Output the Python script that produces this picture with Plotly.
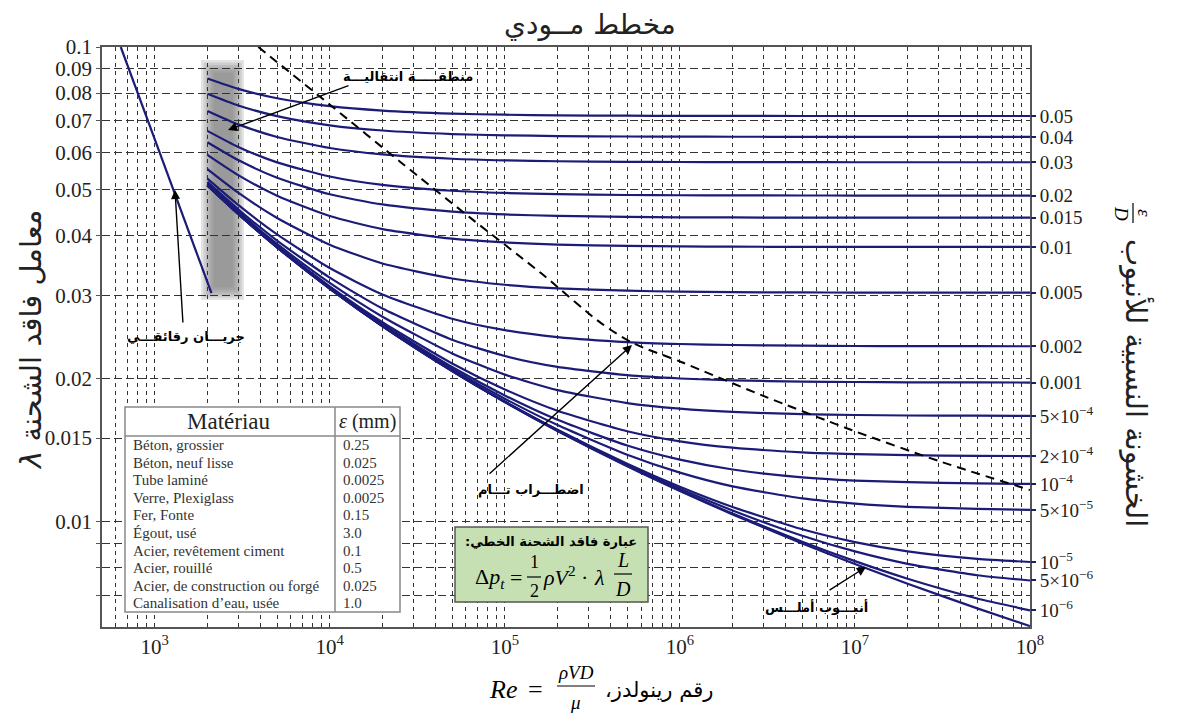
import math
import plotly.graph_objects as go

# ---------------- data ----------------
RE = [2000, 3000, 5000, 1e4, 2e4, 5e4, 1e5, 2e5, 5e5, 1e6, 2e6, 5e6, 1e7, 2e7, 5e7, 1e8]

f_0_05 = [0.08584, 0.08161, 0.07799, 0.07504, 0.07344, 0.07238, 0.0720, 0.07179, 0.07166, 0.07161, 0.07158, 0.07156, 0.07156, 0.07155, 0.07155, 0.07155]
f_0_04 = [0.07972, 0.07532, 0.07152, 0.0684, 0.06669, 0.06556, 0.06515, 0.06493, 0.06478, 0.06473, 0.0647, 0.06469, 0.06468, 0.06468, 0.06467, 0.06467]
f_0_03 = [0.07334, 0.0687, 0.06464, 0.06127, 0.0594, 0.05816, 0.0577, 0.05746, 0.0573, 0.05724, 0.05721, 0.05719, 0.05718, 0.05718, 0.05718, 0.05718]
f_0_02 = [0.06658, 0.06159, 0.05714, 0.05336, 0.05123, 0.04979, 0.04926, 0.04897, 0.04878, 0.04872, 0.04868, 0.04866, 0.04865, 0.04864, 0.04864, 0.04864]
f_0_015 = [0.06302, 0.05778, 0.05304, 0.04895, 0.04659, 0.04499, 0.04439, 0.04407, 0.04386, 0.04378, 0.04374, 0.04371, 0.0437, 0.0437, 0.04369, 0.04369]
f_0_01 = [0.05928, 0.05372, 0.0486, 0.04404, 0.04134, 0.03946, 0.03875, 0.03836, 0.03811, 0.03801, 0.03796, 0.03793, 0.03792, 0.03791, 0.03791, 0.03791]
f_0_005 = [0.05533, 0.04934, 0.04364, 0.03833, 0.03499, 0.03253, 0.03156, 0.03102, 0.03066, 0.03052, 0.03045, 0.0304, 0.03039, 0.03038, 0.03037, 0.03037]
f_0_002 = [0.05283, 0.0465, 0.0403, 0.03422, 0.03011, 0.02677, 0.02533, 0.02449, 0.0239, 0.02368, 0.02356, 0.02348, 0.02345, 0.02344, 0.02343, 0.02342]
f_0_001 = [0.05197, 0.04551, 0.0391, 0.03267, 0.02812, 0.02418, 0.02234, 0.02119, 0.02035, 0.02003, 0.01985, 0.01973, 0.01969, 0.01966, 0.01965, 0.01964]
f_5em4 = [0.05153, 0.045, 0.03848, 0.03184, 0.02702, 0.02262, 0.02041, 0.01893, 0.01778, 0.0173, 0.01703, 0.01685, 0.01678, 0.01674, 0.01672, 0.01671]
f_2em4 = [0.05127, 0.0447, 0.0381, 0.03132, 0.02631, 0.02155, 0.01899, 0.01713, 0.01551, 0.01477, 0.01432, 0.014, 0.01388, 0.01381, 0.01376, 0.01375]
f_1em4 = [0.05118, 0.04459, 0.03797, 0.03115, 0.02606, 0.02117, 0.01845, 0.01639, 0.01447, 0.01351, 0.01288, 0.0124, 0.01221, 0.01211, 0.01204, 0.01201]
f_5em5 = [0.05114, 0.04454, 0.03791, 0.03106, 0.02594, 0.02097, 0.01816, 0.01598, 0.01384, 0.01269, 0.01187, 0.0112, 0.01092, 0.01075, 0.01064, 0.01059]
f_1em5 = [0.0511, 0.0445, 0.03786, 0.03099, 0.02584, 0.0208, 0.01792, 0.01562, 0.01325, 0.01185, 0.01074, 0.009638, 0.009059, 0.008662, 0.008351, 0.008224]
f_5em6 = [0.0511, 0.0445, 0.03785, 0.03098, 0.02583, 0.02078, 0.01789, 0.01558, 0.01317, 0.01173, 0.01056, 0.009344, 0.008657, 0.00815, 0.007713, 0.007519]
f_1em6 = [0.05109, 0.04449, 0.03785, 0.03097, 0.02582, 0.02076, 0.01787, 0.01554, 0.01311, 0.01163, 0.0104, 0.009074, 0.008258, 0.007583, 0.006889, 0.006506]
f_smooth = [0.05109, 0.04449, 0.03785, 0.03097, 0.02581, 0.02076, 0.01786, 0.01553, 0.01309, 0.01161, 0.01036, 0.009001, 0.008142, 0.007401, 0.006567, 0.006026]

curves = [f_0_05, f_0_04, f_0_03, f_0_02, f_0_015, f_0_01, f_0_005, f_0_002, f_0_001,
          f_5em4, f_2em4, f_1em4, f_5em5, f_1em5, f_5em6, f_1em6, f_smooth]
rough_labels = ["0.05", "0.04", "0.03", "0.02", "0.015", "0.01", "0.005", "0.002", "0.001",
                "5×10<sup>−4</sup>", "2×10<sup>−4</sup>", "10<sup>−4</sup>", "5×10<sup>−5</sup>",
                "10<sup>−5</sup>", "5×10<sup>−6</sup>", "10<sup>−6</sup>"]

lam_re = [640, 2110]
lam_f = [0.1, 0.0303]

dash_re = [3908, 10230, 25400, 63900, 160800, 354500, 540500, 1.018e6, 2.922e6, 9.56e6, 3.13e7, 1e8]
dash_f = [0.1, 0.0751, 0.0572, 0.0436, 0.0334, 0.0262, 0.02378, 0.0217, 0.01848, 0.0156, 0.01336, 0.01166]

materials = ["Béton, grossier", "Béton, neuf lisse", "Tube laminé", "Verre, Plexiglass", "Fer, Fonte",
             "Égout, usé", "Acier, revêtement ciment", "Acier, rouillé",
             "Acier, de construction ou forgé", "Canalisation d’eau, usée"]
eps_mm = ["0.25", "0.025", "0.0025", "0.0025", "0.15", "3.0", "0.1", "0.5", "0.025", "1.0"]

y_major = [0.1, 0.09, 0.08, 0.07, 0.06, 0.05, 0.04, 0.03, 0.02, 0.015, 0.01]
y_major_text = ["0.1", "0.09", "0.08", "0.07", "0.06", "0.05", "0.04", "0.03", "0.02", "0.015", "0.01"]
y_minor = [0.009, 0.008, 0.007]

# ---------------- layout geometry ----------------
# the page body adds an 8px offset, so the figure is 8px smaller and margins shifted
W, H = 1173, 707
ML, MT = 94, 39
PW, PH = 928, 580
MR, MB = W - ML - PW, H - MT - PH
REF_L, REF_B = 102, 627   # plot-area left / bottom in screen pixels
NAVY = "#1b1b78"
SERIF = "Liberation Serif"
SANS = "DejaVu Sans"


def px(x):
    return (x - REF_L) / PW


def py(y):
    return (REF_B - y) / PH


fig = go.Figure()
for c in curves:
    fig.add_trace(go.Scatter(x=RE, y=c, mode="lines", hoverinfo="skip", showlegend=False,
                             line=dict(color=NAVY, width=2.2, shape="spline", smoothing=0.6)))
fig.add_trace(go.Scatter(x=lam_re, y=lam_f, mode="lines", hoverinfo="skip", showlegend=False,
                         line=dict(color=NAVY, width=2.2)))
fig.add_trace(go.Scatter(x=dash_re, y=dash_f, mode="lines", hoverinfo="skip", showlegend=False,
                         line=dict(color="black", width=2, dash="9px,6px", shape="spline", smoothing=0.8)))
ends = [c[-1] for c in curves[:-1]]
fig.add_trace(go.Scatter(x=[RE[-1]] * len(ends), y=ends, yaxis="y2", mode="markers",
                         marker=dict(opacity=0), hoverinfo="skip", showlegend=False))

# x grid / ticks
xv, xt = [], []
for d in range(2, 9):
    for m in range(1, 10):
        v = m * 10 ** d
        if 500 <= v <= 1e8:
            xv.append(v)
            xt.append("10<sup>%d</sup>" % d if m == 1 else "")

yr = [math.log10(0.006), -1]
fig.update_layout(
    width=W, height=H, margin=dict(l=ML, r=MR, t=MT, b=MB),
    paper_bgcolor="white", plot_bgcolor="white", showlegend=False,
    xaxis=dict(type="log", range=[math.log10(500), 8], tickvals=xv, ticktext=xt,
               showgrid=True, gridcolor="#333", gridwidth=1, griddash="4px,4px",
               showline=True, mirror=True, linecolor="#555", linewidth=1.5,
               ticks="", tickfont=dict(family=SERIF, size=21, color="#222"), zeroline=False),
    yaxis=dict(type="log", range=yr, tickvals=y_major + y_minor,
               ticktext=y_major_text + [""] * len(y_minor),
               showgrid=True, gridcolor="#333", gridwidth=1, griddash="8px,4px",
               showline=True, mirror=True, linecolor="#555", linewidth=1.5,
               ticks="outside", ticklen=4, tickcolor="#555",
               tickfont=dict(family=SERIF, size=21, color="#222"), zeroline=False),
    yaxis2=dict(type="log", range=yr, overlaying="y", side="right", tickvals=ends,
                ticktext=rough_labels, showgrid=False, zeroline=False, showline=False,
                ticks="outside", ticklen=5, tickwidth=2, tickcolor=NAVY,
                tickfont=dict(family=SERIF, size=19, color="#222")),
)

shapes = []
# shaded transition band (soft edges)
for i in range(6):
    shapes.append(dict(type="rect", xref="paper", yref="paper", layer="between",
                       x0=px(201 + 2.5 * i), x1=px(244 - 2.2 * i), y0=py(300 - 2.5 * i), y1=py(60 + 2.5 * i),
                       fillcolor="#777777", opacity=0.2, line=dict(width=0)))
# material table
shapes.append(dict(type="rect", xref="paper", yref="paper", layer="above",
                   x0=px(125), x1=px(400), y0=py(612), y1=py(407),
                   fillcolor="white", line=dict(color="#888", width=1.5)))
shapes.append(dict(type="line", xref="paper", yref="paper", layer="above",
                   x0=px(125), x1=px(400), y0=py(436), y1=py(436), line=dict(color="#888", width=1.5)))
shapes.append(dict(type="line", xref="paper", yref="paper", layer="above",
                   x0=px(335), x1=px(335), y0=py(407), y1=py(612), line=dict(color="#888", width=1.5)))
# formula box
shapes.append(dict(type="rect", xref="paper", yref="paper", layer="above",
                   x0=px(455), x1=px(648), y0=py(602), y1=py(527),
                   fillcolor="#c6e0b4", line=dict(color="#555", width=1.5)))
shapes.append(dict(type="line", xref="paper", yref="paper", x0=px(527), x1=px(541), y0=py(577), y1=py(577),
                   line=dict(color="black", width=1.2)))
shapes.append(dict(type="line", xref="paper", yref="paper", x0=px(614), x1=px(632), y0=py(574), y1=py(574),
                   line=dict(color="black", width=1.2)))
# x title fraction bar
shapes.append(dict(type="line", xref="paper", yref="paper", x0=px(557), x1=px(595), y0=py(686), y1=py(686),
                   line=dict(color="black", width=1.2)))
# right title fraction bar
shapes.append(dict(type="line", xref="paper", yref="paper", x0=px(1133), x1=px(1133), y0=py(203), y1=py(223),
                   line=dict(color="black", width=1.2)))


def txt(x, y, s, size, family=SERIF, xanchor="center", angle=0, color="black"):
    return dict(xref="paper", yref="paper", x=px(x), y=py(y), text=s, showarrow=False,
                xanchor=xanchor, yanchor="middle", textangle=angle,
                font=dict(size=size, family=family, color=color))


def arrow(tx, ty, hx, hy):
    return dict(xref="paper", yref="paper", x=px(hx), y=py(hy), ax=tx - hx, ay=ty - hy,
                axref="pixel", ayref="pixel", text="", showarrow=True, arrowhead=2,
                arrowsize=1.3, arrowwidth=1.4, arrowcolor="black", standoff=0)


ann = []
ann.append(txt(590, 24, "مخطط مــودي", 28, SANS, color="#222"))
# axis titles
ann.append(txt(31, 340, "<i>λ</i> " + "معامل فاقد الشحنة", 29, SANS, angle=-90, color="#222"))
ann.append(txt(1137, 383, "الخشونة النسبية للأنبوب", 29, SANS, angle=90, color="#222"))
ann.append(txt(1145, 213, "<i>ε</i>", 19, SERIF, angle=90))
ann.append(txt(1122, 213, "<i>D</i>", 19, SERIF, angle=90))
ann.append(txt(503, 689, "<i>Re</i>", 26, SERIF))
ann.append(txt(535, 689, "=", 26, SERIF))
ann.append(txt(576, 672, "<i>ρVD</i>", 19, SERIF))
ann.append(txt(575, 702, "<i>μ</i>", 19, SERIF))
ann.append(txt(659, 690, "رقم رينولدز،\u200f", 21, SANS))
# table text
ann.append(txt(229, 421, "Matériau", 23, SERIF, color="#222"))
ann.append(txt(367, 421, "<i>ε</i> (mm)", 20, SERIF, color="#222"))
for i, (m, e) in enumerate(zip(materials, eps_mm)):
    yy = 445 + 17.6 * i
    ann.append(txt(131, yy, m, 15, SERIF, xanchor="left", color="#333"))
    ann.append(txt(341, yy, e, 15, SERIF, xanchor="left", color="#333"))
# formula box
ann.append(txt(639, 541, "<b>عبارة فاقد الشحنة الخطي:\u200f</b>", 13, SANS, xanchor="right"))
ann.append(txt(490, 578, "Δ<i>p<sub>t</sub></i>", 22, SERIF))
ann.append(txt(516, 577, "=", 22, SERIF))
ann.append(txt(534, 562, "1", 18, SERIF))
ann.append(txt(534, 591, "2", 18, SERIF))
ann.append(txt(559, 576, "<i>ρV</i><sup>2</sup>", 22, SERIF))
ann.append(txt(584, 577, "·", 22, SERIF))
ann.append(txt(599, 577, "<i>λ</i>", 22, SERIF))
ann.append(txt(623, 560, "<i>L</i>", 20, SERIF))
ann.append(txt(623, 589, "<i>D</i>", 20, SERIF))
# region labels and arrows
ann.append(txt(408, 76, "<b>منطقـــــة انتقاليـــة</b>", 13, SANS))
ann.append(arrow(350, 85, 228, 130))
ann.append(txt(186, 336, "<b>جريـــان رقائقـــي</b>", 13, SANS))
ann.append(arrow(183, 324, 175, 190))
ann.append(txt(531, 490, "<b>اضطـــراب تـــام</b>", 13, SANS))
ann.append(arrow(488, 475, 632, 345))
ann.append(txt(816, 607, "<b>أنبـــوب أملـــس</b>", 13, SANS))
ann.append(arrow(828, 591, 866, 567))

fig.update_layout(shapes=shapes, annotations=ann)
fig.write_html("out.html")
